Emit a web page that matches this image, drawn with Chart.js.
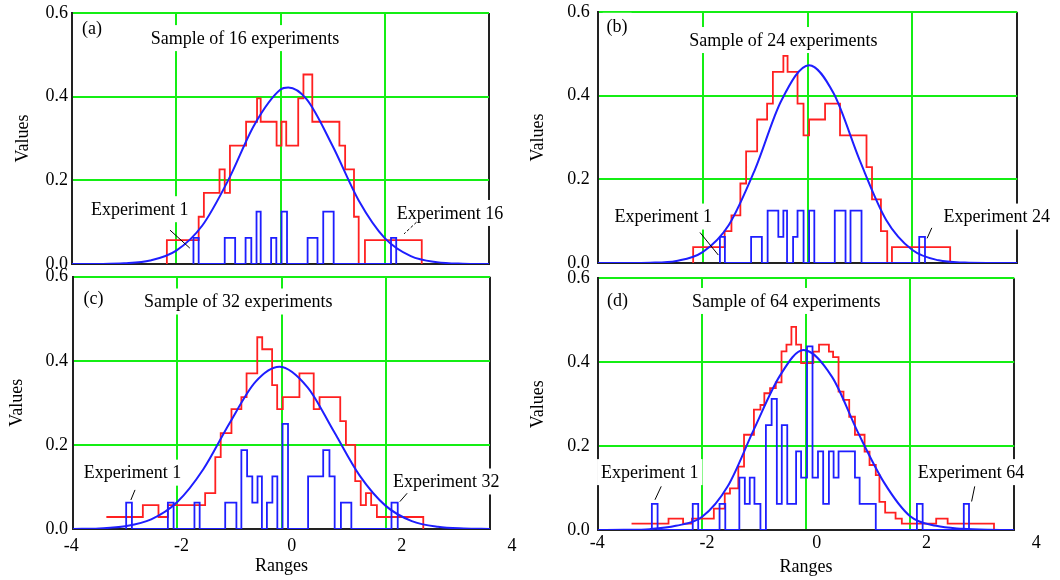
<!DOCTYPE html>
<html>
<head>
<meta charset="utf-8">
<script src="https://cdn.jsdelivr.net/npm/chart.js@4.4.1/dist/chart.umd.min.js"></script>
<style>
  body { margin: 0; background: #fff; }
  #wrap { position: relative; width: 1060px; height: 580px; overflow: hidden; }
  canvas { position: absolute; }
</style>
</head>
<body>
<div id="wrap">
  <canvas id="panelA" width="520" height="275" style="left:0;top:0"></canvas>
  <canvas id="panelB" width="540" height="275" style="left:520px;top:0"></canvas>
  <canvas id="panelC" width="520" height="318" style="left:0;top:262px"></canvas>
  <canvas id="panelD" width="540" height="318" style="left:520px;top:262px"></canvas>
</div>
<script>
// Axis ticks
const Y_TICKS = [0, 0.2, 0.4, 0.6];
const X_TICKS = [-4, -2, 0, 2, 4];

// Fitted normal curves
const CURVE_A_X = [-4, -3.5, -3, -2.5, -2, -1.5, -1, -0.5, 0, 0.15, 0.5, 1, 1.5, 2, 2.5, 3, 3.5, 4];
const CURVE_A_Y = [0, 0.0002, 0.0016, 0.0083, 0.032, 0.092, 0.201, 0.333, 0.417, 0.422, 0.394, 0.282, 0.152, 0.062, 0.019, 0.0045, 0.0008, 0.0001];
const CURVE_B_X = [-4, -3.5, -3, -2.5, -2, -1.5, -1, -0.5, 0.03, 0.5, 1, 1.5, 2, 2.5, 3, 3.5, 4];
const CURVE_B_Y = [0, 0.0001, 0.0007, 0.005, 0.026, 0.091, 0.224, 0.388, 0.473, 0.405, 0.244, 0.103, 0.031, 0.0065, 0.001, 0.0001, 0];
const CURVE_C_X = [-4, -3.5, -3, -2.5, -2, -1.5, -1, -0.5, -0.04, 0.5, 1, 1.5, 2, 2.5, 3, 3.5, 4];
const CURVE_C_Y = [0.0002, 0.0014, 0.0064, 0.0227, 0.064, 0.142, 0.251, 0.35, 0.386, 0.337, 0.233, 0.127, 0.055, 0.0188, 0.0051, 0.0011, 0.0002];
const CURVE_D_X = [-4, -3.5, -3, -2.5, -2, -1.5, -1, -0.5, -0.05, 0.5, 1, 1.5, 2, 2.5, 3, 3.5, 4];
const CURVE_D_Y = [0, 0.0003, 0.002, 0.01, 0.031, 0.105, 0.24, 0.368, 0.429, 0.365, 0.232, 0.113, 0.033, 0.01, 0.003, 0.0005, 0];

// Sample histograms (red): level starts at each x
const RED_A_X = [-2.18, -2.18, -1.57, -1.47, -1.17, -1.07, -0.97, -0.66, -0.45, -0.38, -0.075, 0.02, 0.11, 0.34, 0.44, 0.61, 1.13, 1.24, 1.41, 1.5, 1.62, 2.71];
const RED_A_Y = [0, 0.057, 0.113, 0.17, 0.226, 0.17, 0.283, 0.34, 0.396, 0.34, 0.283, 0.34, 0.283, 0.396, 0.453, 0.34, 0.283, 0.226, 0.113, 0, 0.057, 0];
const RED_B_X = [-2.18, -2.18, -1.58, -1.45, -1.28, -1.17, -0.96, -0.77, -0.66, -0.46, -0.38, -0.19, -0.076, 0.03, 0.335, 0.62, 1.125, 1.23, 1.4, 1.52, 1.61, 2.72];
const RED_B_Y = [0, 0.038, 0.076, 0.114, 0.19, 0.267, 0.343, 0.381, 0.457, 0.495, 0.457, 0.381, 0.305, 0.343, 0.381, 0.305, 0.229, 0.152, 0.076, 0, 0.038, 0];
const RED_C_X = [-3.36, -2.66, -2.36, -2.18, -1.465, -1.27, -1.166, -0.96, -0.77, -0.67, -0.465, -0.37, -0.18, -0.083, 0.025, 0.344, 0.618, 0.73, 1.127, 1.236, 1.414, 1.52, 1.62, 1.72, 1.83, 2.72];
const RED_C_Y = [0.0285, 0.057, 0.0285, 0.057, 0.0855, 0.171, 0.228, 0.285, 0.3135, 0.37, 0.456, 0.4275, 0.342, 0.285, 0.3135, 0.37, 0.285, 0.3135, 0.2565, 0.2, 0.114, 0.057, 0.0855, 0.057, 0.0285, 0];
const RED_D_X = [-3.35, -2.64, -2.36, -2.19, -1.77, -1.56, -1.46, -1.3, -1.19, -1.0, -0.875, -0.8, -0.69, -0.58, -0.47, -0.375, -0.28, -0.19, -0.094, 0.14, 0.25, 0.44, 0.52, 0.625, 0.72, 0.83, 0.94, 1.125, 1.22, 1.34, 1.41, 1.52, 1.72, 1.84, 2.5, 2.72, 3.61];
const RED_D_Y = [0.015, 0.027, 0.015, 0.027, 0.051, 0.087, 0.099, 0.151, 0.227, 0.287, 0.298, 0.326, 0.338, 0.352, 0.426, 0.442, 0.484, 0.442, 0.398, 0.425, 0.442, 0.425, 0.412, 0.33, 0.31, 0.27, 0.227, 0.187, 0.155, 0.131, 0.067, 0.0415, 0.027, 0.015, 0.027, 0.015, 0];

// Single experiments (blue bars)
const BLUE_A_X = [-1.67, -1.67, -1.57, -1.07, -0.87, -0.67, -0.56, -0.46, -0.38, -0.18, -0.08, 0.02, 0.125, 0.52, 0.71, 0.82, 1.02, 2.12, 2.22];
const BLUE_A_Y = [0, 0.0625, 0, 0.0625, 0, 0.0625, 0, 0.125, 0, 0.0625, 0, 0.125, 0, 0.0625, 0, 0.125, 0, 0.0625, 0];
const BLUE_B_X = [-1.67, -1.67, -1.575, -1.075, -0.87, -0.76, -0.556, -0.46, -0.39, -0.275, -0.19, -0.075, 0.03, 0.13, 0.52, 0.725, 0.82, 1.03, 2.13, 2.24];
const BLUE_B_Y = [0, 0.0625, 0, 0.0625, 0, 0.125, 0.0625, 0.125, 0, 0.0625, 0.125, 0, 0.125, 0, 0.125, 0, 0.125, 0, 0.0625, 0];
const BLUE_C_X = [-2.98, -2.98, -2.87, -2.18, -2.07, -1.67, -1.57, -1.08, -0.865, -0.77, -0.66, -0.56, -0.46, -0.376, -0.28, -0.175, -0.08, 0.02, 0.125, 0.51, 0.8, 0.92, 1.02, 1.14, 1.34, 2.11, 2.23];
const BLUE_C_Y = [0, 0.0625, 0, 0.0625, 0, 0.0625, 0, 0.0625, 0, 0.1875, 0.125, 0.0625, 0.125, 0, 0.0625, 0.125, 0, 0.25, 0, 0.125, 0.1875, 0.125, 0, 0.0625, 0, 0.0625, 0];
const BLUE_D_X = [-2.96, -2.96, -2.85, -2.175, -2.07, -1.66, -1.55, -1.28, -1.175, -1.08, -0.99, -0.875, -0.77, -0.66, -0.56, -0.465, -0.36, -0.19, -0.094, 0.02, 0.125, 0.23, 0.33, 0.44, 0.53, 0.625, 0.94, 1.03, 1.34, 2.13, 2.24, 3.03, 3.13];
const BLUE_D_Y = [0, 0.0625, 0, 0.0625, 0, 0.0625, 0, 0.125, 0.0625, 0.125, 0.0625, 0, 0.25, 0.3125, 0.0625, 0.25, 0.0625, 0.1875, 0.125, 0.4375, 0.125, 0.1875, 0.0625, 0.1875, 0.125, 0.1875, 0.125, 0.0625, 0, 0.0625, 0, 0.0625, 0];

const GREEN = '#14ee14';
const RED = '#ff2020';
const BLUE = '#1e1eff';
const FRAME = '#222';
const FONT = { family: '"Liberation Serif", "Times New Roman", serif', size: 18 };

const pts = (xs, ys) => xs.map((x, i) => ({ x: x, y: ys[i] }));

// text boxes and leader lines inside the plot
const notesPlugin = {
  id: 'notes',
  beforeDatasetsDraw(chart, args, opts) {
    const { ctx, scales: { x, y } } = chart;
    ctx.save();
    ctx.font = '18px "Liberation Serif"';
    ctx.textBaseline = 'middle';
    ctx.textAlign = 'left';
    opts.labels.forEach(n => {
      const px = x.getPixelForValue(n.x);
      const py = y.getPixelForValue(n.y);
      const w = ctx.measureText(n.text).width;
      const left = n.left ? px : px - w / 2;
      ctx.fillStyle = '#fff';
      ctx.fillRect(left - 4, py - 13, w + 8, 26);
      ctx.fillStyle = '#000';
      ctx.fillText(n.text, left, py + 1);
    });
    ctx.restore();
  },
  afterDatasetsDraw(chart, args, opts) {
    const { ctx, scales: { x, y } } = chart;
    ctx.save();
    ctx.strokeStyle = '#000';
    ctx.lineWidth = 1;
    opts.leaders.forEach(l => {
      ctx.setLineDash(l.dash ? [3, 2] : []);
      ctx.beginPath();
      ctx.moveTo(x.getPixelForValue(l.x1), y.getPixelForValue(l.y1));
      ctx.lineTo(x.getPixelForValue(l.x2), y.getPixelForValue(l.y2));
      ctx.stroke();
    });
    ctx.restore();
  }
};

function makePanel(id, p) {
  const scales = {
    x: {
      type: 'linear', min: -4, max: 4, weight: 0,
      ticks: { display: false, stepSize: 2 },
      grid: { color: c => Math.abs(c.tick.value) === 4 ? FRAME : GREEN, lineWidth: 2, drawTicks: false },
      border: { color: FRAME, width: 2 },
      afterFit: s => { s.height = 0; s.paddingLeft = 0; s.paddingRight = 0; }
    },
    y: {
      min: 0, max: 0.6,
      afterBuildTicks: s => { s.ticks = Y_TICKS.map(v => ({ value: v })); },
      ticks: { callback: v => v.toFixed(1), font: FONT, color: '#000', padding: p.tickPad },
      grid: { color: c => c.tick.value === 0 ? FRAME : GREEN, lineWidth: 2, drawTicks: false },
      border: { color: FRAME, width: 2 },
      title: { display: true, text: 'Values', font: FONT, color: '#000', padding: { top: p.titlePad, bottom: 0 } },
      afterFit: s => { s.width = p.yWidth; s.paddingTop = 0; s.paddingBottom = 0; }
    }
  };
  if (p.labels) {
    scales.x2 = {
      type: 'linear', position: 'bottom', min: p.labels.min, max: p.labels.max, weight: 1,
      afterBuildTicks: s => { s.ticks = X_TICKS.map(v => ({ value: v })); },
      ticks: { callback: v => String(v), font: FONT, color: '#000', padding: p.labels.pad, autoSkip: false, maxRotation: 0 },
      grid: { display: false, drawTicks: false },
      border: { display: false },
      title: { display: true, text: 'Ranges', font: FONT, color: '#000', padding: { top: 0, bottom: p.labels.titlePad } },
      afterFit: s => { s.height = p.labels.height; s.paddingLeft = 0; s.paddingRight = 0; }
    };
  }
  new Chart(document.getElementById(id), {
    type: 'line',
    data: {
      datasets: [
        { data: pts(p.curveX, p.curveY), borderColor: BLUE, borderWidth: 2, pointRadius: 0, cubicInterpolationMode: 'monotone' },
        { data: pts(p.blueX, p.blueY), borderColor: BLUE, borderWidth: 1.8, pointRadius: 0, stepped: true },
        { data: pts(p.redX, p.redY), borderColor: RED, borderWidth: 1.8, pointRadius: 0, stepped: true }
      ]
    },
    options: {
      responsive: false, animation: false, devicePixelRatio: 1, events: [],
      layout: { padding: p.padding },
      plugins: {
        legend: { display: false }, tooltip: { enabled: false },
        notes: { labels: p.notes, leaders: p.leaders }
      },
      scales: scales
    },
    plugins: [notesPlugin]
  });
}

makePanel('panelA', {
  curveX: CURVE_A_X, curveY: CURVE_A_Y, redX: RED_A_X, redY: RED_A_Y, blueX: BLUE_A_X, blueY: BLUE_A_Y,
  yWidth: 72, tickPad: 4, titlePad: 12.5,
  padding: { left: 0, top: 13, right: 31, bottom: 11 },
  notes: [
    { text: '(a)', x: -3.81, y: 0.564, left: true },
    { text: 'Sample of 16 experiments', x: -0.68, y: 0.54 },
    { text: 'Experiment 1', x: -2.7, y: 0.131 },
    { text: 'Experiment 16', x: 3.25, y: 0.122 }
  ],
  leaders: [
    { x1: -2.12, y1: 0.081, x2: -1.74, y2: 0.038 },
    { x1: 2.61, y1: 0.1, x2: 2.37, y2: 0.072, dash: true }
  ]
});

makePanel('panelB', {
  curveX: CURVE_B_X, curveY: CURVE_B_Y, redX: RED_B_X, redY: RED_B_Y, blueX: BLUE_B_X, blueY: BLUE_B_Y,
  yWidth: 77.7, tickPad: 8, titlePad: 7.9,
  padding: { left: 0, top: 12, right: 42.7, bottom: 12 },
  notes: [
    { text: '(b)', x: -3.83, y: 0.567, left: true },
    { text: 'Sample of 24 experiments', x: -0.46, y: 0.533 },
    { text: 'Experiment 1', x: -2.75, y: 0.111 },
    { text: 'Experiment 24', x: 3.61, y: 0.111 }
  ],
  leaders: [
    { x1: -2.05, y1: 0.073, x2: -1.7, y2: 0.019 },
    { x1: 2.37, y1: 0.084, x2: 2.28, y2: 0.059 }
  ]
});

makePanel('panelC', {
  curveX: CURVE_C_X, curveY: CURVE_C_Y, redX: RED_C_X, redY: RED_C_Y, blueX: BLUE_C_X, blueY: BLUE_C_Y,
  yWidth: 73, tickPad: 5, titlePad: 6.2,
  padding: { left: 0, top: 14.7, right: 30, bottom: 0 },
  labels: { min: -3.97, max: 3.6, pad: 6, titlePad: 2.5, height: 51 },
  notes: [
    { text: '(c)', x: -3.8, y: 0.548, left: true },
    { text: 'Sample of 32 experiments', x: -0.83, y: 0.541 },
    { text: 'Experiment 1', x: -2.86, y: 0.134 },
    { text: 'Experiment 32', x: 3.16, y: 0.113 }
  ],
  leaders: [
    { x1: -2.81, y1: 0.093, x2: -2.89, y2: 0.069 },
    { x1: 2.41, y1: 0.085, x2: 2.27, y2: 0.065 }
  ]
});

makePanel('panelD', {
  curveX: CURVE_D_X, curveY: CURVE_D_Y, redX: RED_D_X, redY: RED_D_Y, blueX: BLUE_D_X, blueY: BLUE_D_Y,
  yWidth: 77.7, tickPad: 8, titlePad: 7,
  padding: { left: 0, top: 16.3, right: 45.7, bottom: 0 },
  labels: { min: -3.99, max: 3.6, pad: 2.5, titlePad: 1.5, height: 50 },
  notes: [
    { text: '(d)', x: -3.82, y: 0.548, left: true },
    { text: 'Sample of 64 experiments', x: -0.38, y: 0.546 },
    { text: 'Experiment 1', x: -3.0, y: 0.138 },
    { text: 'Experiment 64', x: 3.17, y: 0.138 }
  ],
  leaders: [
    { x1: -2.78, y1: 0.104, x2: -2.9, y2: 0.072 },
    { x1: 3.24, y1: 0.104, x2: 3.18, y2: 0.068 }
  ]
});
</script>
</body>
</html>
